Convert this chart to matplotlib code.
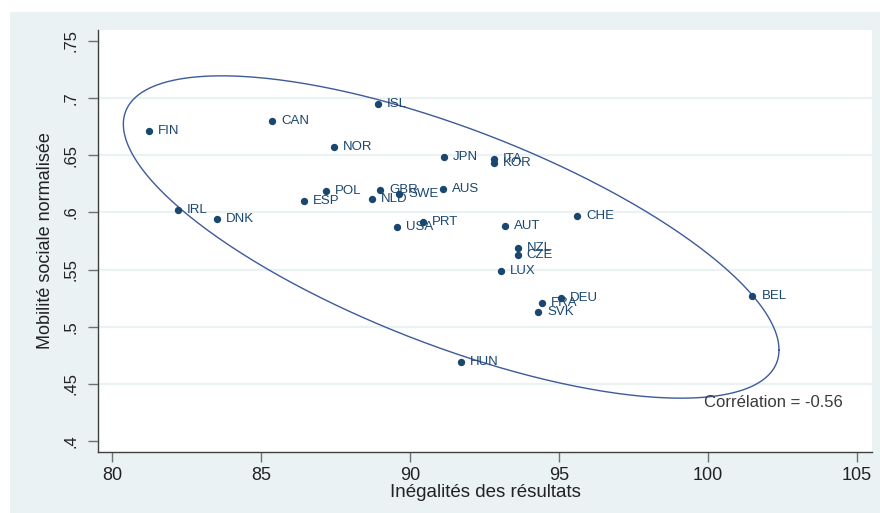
import numpy as np
import matplotlib
matplotlib.use("Agg")
import matplotlib.pyplot as plt
from matplotlib.patches import Rectangle

plt.rcParams['font.family'] = ['Liberation Sans', 'DejaVu Sans']

countries = ["FIN", "CAN", "ISL", "NOR", "JPN", "ITA", "KOR", "POL", "GBR", "SWE",
             "NLD", "ESP", "AUS", "IRL", "DNK", "USA", "PRT", "AUT", "CHE", "NZL",
             "CZE", "LUX", "DEU", "FRA", "SVK", "BEL", "HUN"]
inegalites = [81.24, 85.37, 88.93, 87.45, 91.14, 92.82, 92.82, 87.18, 88.99, 89.63,
              88.72, 86.44, 91.11, 82.21, 83.52, 89.56, 90.44, 93.19, 95.60, 93.61,
              93.61, 93.05, 95.06, 94.42, 94.31, 101.49, 91.70]
mobilite = [0.671, 0.680, 0.695, 0.657, 0.6485, 0.6467, 0.643, 0.619, 0.6196, 0.616,
            0.6118, 0.610, 0.6205, 0.6021, 0.5943, 0.5873, 0.5916, 0.588, 0.5969, 0.569,
            0.5628, 0.5488, 0.5254, 0.5205, 0.5126, 0.5269, 0.469]

# ellipse parameters
ell_center_x = 91.38
ell_center_y = 0.5785
ell_half_w = 11.0
ell_half_h = 0.141
ell_rho = -0.70

xticks = [80, 85, 90, 95, 100, 105]
yticks = [0.4, 0.45, 0.5, 0.55, 0.6, 0.65, 0.7, 0.75]
ytick_labels = [".4", ".45", ".5", ".55", ".6", ".65", ".7", ".75"]
grid_levels = [0.45, 0.5, 0.55, 0.6, 0.65, 0.7]
corr_text = "Corrélation = -0.56"

W, H = 880, 513
fig = plt.figure(figsize=(W / 100, H / 100), dpi=100)
fig.patch.set_facecolor("white")
bg = "#eaf2f3"
fig.patches.append(Rectangle((10 / W, 0), 1 - 10 / W, 1 - 12 / H,
                             transform=fig.transFigure, facecolor=bg,
                             edgecolor="none", zorder=-10))

ax = fig.add_axes([98 / W, 1 - 452 / H, (872 - 98) / W, (452 - 30) / H])
ax.set_facecolor("white")

for g in grid_levels:
    ax.axhline(g, color=bg, lw=1.6, zorder=0)

t = np.linspace(0, 2 * np.pi, 400)
ex = ell_center_x + ell_half_w * np.cos(t)
ey = ell_center_y + ell_half_h * (ell_rho * np.cos(t) + np.sqrt(1 - ell_rho ** 2) * np.sin(t))
ax.plot(ex, ey, color="#3d5a9a", lw=1.0, zorder=2)

navy = "#1a476f"
ax.scatter(inegalites, mobilite, s=28, color=navy, zorder=3, linewidths=0)
for c, x, y in zip(countries, inegalites, mobilite):
    ax.annotate(c, (x, y), xytext=(6.5, 0), textcoords="offset points",
                ha="left", va="center", fontsize=9.5, color=navy, zorder=4)

ax.text(99.87, 0.4333, corr_text, ha="left", va="center", fontsize=12, color="#3a3a3a")

ax.set_xlim(79.53, 105.5)
ax.set_ylim(0.3904, 0.7596)
ax.set_xticks(xticks)
ax.set_xticklabels([str(v) for v in xticks])
ax.set_yticks(yticks)
ax.set_yticklabels(ytick_labels, rotation=90, va="center")

for side in ["top", "right"]:
    ax.spines[side].set_visible(False)
for side in ["left", "bottom"]:
    ax.spines[side].set_color("#404040")
    ax.spines[side].set_linewidth(1.0)

ax.tick_params(axis="both", direction="out", length=7, width=1, color="#707070",
               labelcolor="#222222")
ax.tick_params(axis="x", pad=4, labelsize=13)
ax.tick_params(axis="y", pad=7, labelsize=12)

ax.set_xlabel("Inégalités des résultats", fontsize=13.5, color="#222222", labelpad=0)
ax.set_ylabel("Mobilité sociale normalisée", fontsize=13, color="#222222", labelpad=7)

fig.savefig("out.png", dpi=100, facecolor=fig.get_facecolor())
